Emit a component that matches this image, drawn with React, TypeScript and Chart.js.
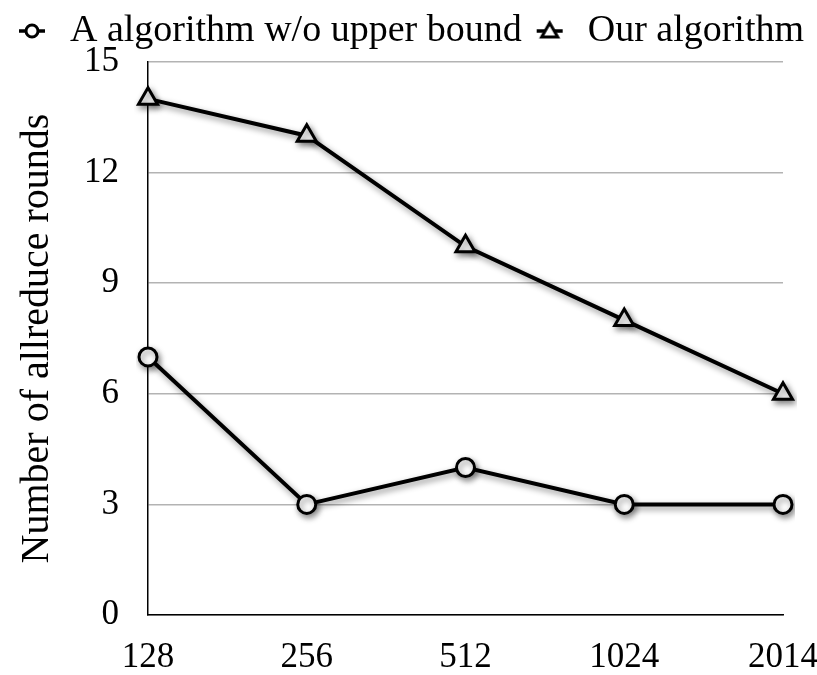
import React, { useEffect, useRef } from 'react';
import { Chart, registerables } from 'chart.js';
Chart.register(...registerables);

const categories = ['128', '256', '512', '1024', '2014'];
const seriesNoBound = [7, 3, 4, 3, 3];
const seriesOurs = [14, 13, 10, 8, 6];
const seriesNames = ['A algorithm w/o upper bound', 'Our algorithm'];
const yTitle = 'Number of allreduce rounds';

const FONT = '"Liberation Serif", "Times New Roman", serif';

function legendIcon(kind: string): HTMLCanvasElement {
  const c = document.createElement('canvas');
  c.width = 30;
  c.height = 26;
  const ctx = c.getContext('2d') as CanvasRenderingContext2D;
  ctx.strokeStyle = '#000';
  ctx.lineWidth = 3.5;
  ctx.beginPath();
  ctx.moveTo(2, 13);
  ctx.lineTo(28, 13);
  ctx.stroke();
  ctx.fillStyle = '#fff';
  ctx.lineWidth = 3;
  ctx.beginPath();
  if (kind === 'circle') {
    ctx.arc(15, 13, 6, 0, Math.PI * 2);
  } else {
    ctx.moveTo(15, 5);
    ctx.lineTo(23, 19);
    ctx.lineTo(7, 19);
    ctx.closePath();
  }
  ctx.fill();
  ctx.stroke();
  return c;
}

const shadowPlugin = {
  id: 'shadow',
  beforeDatasetDraw(chart: any) {
    const ctx = chart.ctx;
    ctx.save();
    ctx.shadowColor = 'rgba(0,0,0,0.45)';
    ctx.shadowBlur = 6;
    ctx.shadowOffsetX = 2;
    ctx.shadowOffsetY = 3;
  },
  afterDatasetDraw(chart: any) {
    chart.ctx.restore();
  },
};

const legendSpacer = {
  id: 'legendSpacer',
  beforeInit(chart: any) {
    const legend = chart.legend;
    if (!legend) return;
    const orig = legend.fit;
    legend.fit = function () {
      orig.call(this);
      this.height += 2;
    };
  },
};

export default function App() {
  const ref = useRef<HTMLCanvasElement>(null);
  useEffect(() => {
    if (!ref.current) return;
    const icons = [legendIcon('circle'), legendIcon('triangle')];
    const chart = new Chart(ref.current, {
      type: 'line',
      data: {
        labels: categories,
        datasets: [
          {
            label: seriesNames[0],
            data: seriesNoBound,
            borderColor: '#000',
            borderWidth: 4,
            pointStyle: 'circle',
            pointRadius: 9,
            pointBorderWidth: 3,
            pointBackgroundColor: '#fff',
            pointBorderColor: '#000',
            tension: 0,
          },
          {
            label: seriesNames[1],
            data: seriesOurs,
            borderColor: '#000',
            borderWidth: 4,
            pointStyle: 'triangle',
            pointRadius: 11,
            pointBorderWidth: 3,
            pointBackgroundColor: '#fff',
            pointBorderColor: '#000',
            tension: 0,
          },
        ],
      },
      options: {
        animation: false,
        responsive: true,
        maintainAspectRatio: false,
        layout: { padding: { left: 0, right: 0, top: 3, bottom: 0 } },
        plugins: {
          tooltip: { enabled: false },
          legend: {
            position: 'top',
            labels: {
              font: { family: FONT, size: 38 },
              color: '#000',
              usePointStyle: true,
              pointStyleWidth: 38,
              padding: 9,
              generateLabels: (ch: any) =>
                ch.data.datasets.map((ds: any, i: number) => ({
                  text: ds.label,
                  pointStyle: icons[i],
                  fillStyle: '#fff',
                  strokeStyle: '#000',
                  lineWidth: 0,
                  hidden: false,
                  datasetIndex: i,
                  fontColor: '#000',
                })),
            },
          },
        },
        scales: {
          x: {
            offset: false,
            grid: { display: false, drawTicks: false },
            border: { display: true, color: '#000', width: 1.5 },
            ticks: {
              font: { family: FONT, size: 35 },
              color: '#000',
              padding: 22,
              maxRotation: 0,
            },
            afterFit: (s: any) => {
              s.height = 60;
              s.paddingRight = 34;
              s.paddingLeft = 0;
            },
          },
          y: {
            min: 0,
            max: 15,
            grid: { color: '#b3b3b3', lineWidth: 1.5, drawTicks: false },
            border: { display: true, color: '#000', width: 1.5 },
            ticks: {
              stepSize: 3,
              font: { family: FONT, size: 35 },
              color: '#000',
              padding: 29,
            },
            title: {
              display: true,
              text: yTitle,
              font: { family: FONT, size: 40 },
              color: '#000',
              padding: { top: 13, bottom: 0 },
            },
            afterFit: (s: any) => {
              s.width = 148;
            },
          },
        },
      },
      plugins: [shadowPlugin, legendSpacer],
    });
    return () => chart.destroy();
  }, []);
  return (
    <div style={{ position: 'fixed', left: 0, top: 0, width: 817, height: 675, background: '#fff' }}>
      <canvas ref={ref} />
    </div>
  );
}
